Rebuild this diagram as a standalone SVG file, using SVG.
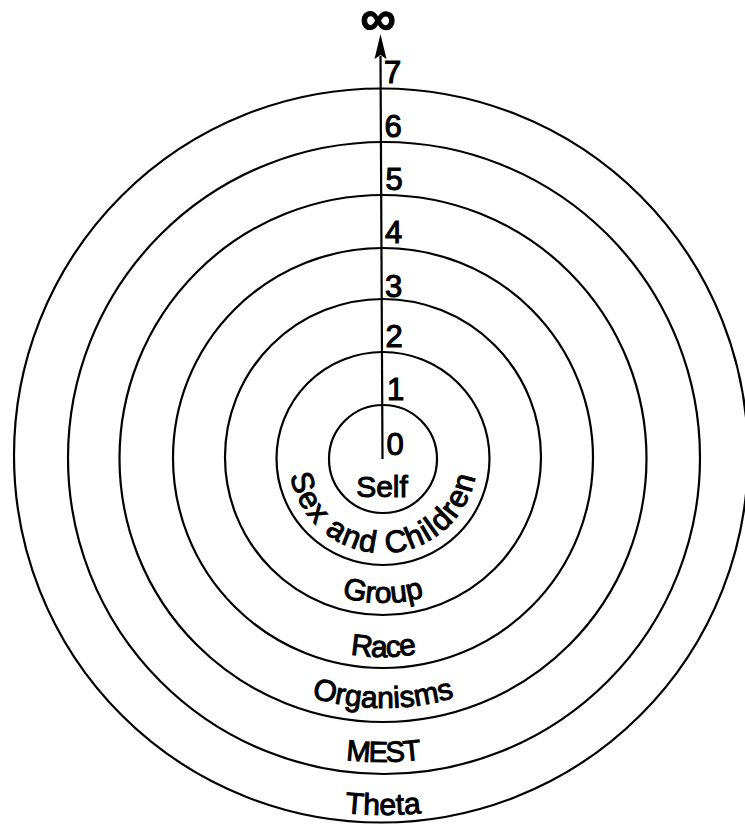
<svg xmlns="http://www.w3.org/2000/svg" width="745" height="825" viewBox="0 0 745 825">
<style>
.ring{fill:none;stroke:#000;stroke-width:2.2}
.lbl{font-family:"Liberation Sans",Arial,sans-serif;font-size:30px;fill:#000;stroke:#000;stroke-width:1}
.num{font-family:"Liberation Sans",Arial,sans-serif;font-size:31px;fill:#000;stroke:#000;stroke-width:1.1}
</style>
<defs>
<path id="p-sex" d="M 289 459 A 94 94 0 0 0 477 459"/>
<path id="p-group" d="M 238 458 A 145 145 0 0 0 528 458"/>
<path id="p-race" d="M 184 458 A 199 199 0 0 0 582 458"/>
<path id="p-org" d="M 133 458 A 250 250 0 0 0 633 458"/>
<path id="p-mest" d="M 79 458 A 304 304 0 0 0 687 458"/>
<path id="p-theta" d="M 26 458 A 357 357 0 0 0 740 458"/>
</defs>
<rect width="745" height="825" fill="#fff"/>
<g id="ring-6">
<circle class="ring" cx="381" cy="455.5" r="367"/>
<text class="lbl"><textPath href="#p-theta" startOffset="50%" text-anchor="middle">Theta</textPath></text>
<text class="num" x="384.5" y="137">6</text>
</g>
<g id="ring-5">
<circle class="ring" cx="384" cy="458" r="316"/>
<text class="lbl" style="font-size:29px;letter-spacing:-1.5px"><textPath href="#p-mest" startOffset="50%" text-anchor="middle">MEST</textPath></text>
<text class="num" x="385.5" y="190">5</text>
</g>
<g id="ring-4">
<circle class="ring" cx="383" cy="458.5" r="263.5"/>
<text class="lbl"><textPath href="#p-org" startOffset="50%" text-anchor="middle">Organisms</textPath></text>
<text class="num" x="385" y="243">4</text>
</g>
<g id="ring-3">
<circle class="ring" cx="383" cy="458" r="210"/>
<text class="lbl" style="letter-spacing:-1px"><textPath href="#p-race" startOffset="50%" text-anchor="middle">Race</textPath></text>
<text class="num" x="385" y="297">3</text>
</g>
<g id="ring-2">
<circle class="ring" cx="383" cy="457" r="158"/>
<text class="lbl"><textPath href="#p-group" startOffset="50%" text-anchor="middle">Group</textPath></text>
<text class="num" x="385.5" y="347">2</text>
</g>
<g id="ring-1">
<circle class="ring" cx="383" cy="458.5" r="106.5"/>
<text class="lbl" style="font-size:31px;letter-spacing:1.5px"><textPath href="#p-sex" startOffset="50%" text-anchor="middle">Sex and Children</textPath></text>
<text class="num" x="387" y="400">1</text>
</g>
<g id="ring-0">
<circle class="ring" cx="383" cy="459" r="54"/>
<text class="lbl" x="382" y="497" text-anchor="middle">Self</text>
<text class="num" x="386.5" y="455">0</text>
</g>
<g id="outside">
<text class="num" x="384" y="83">7</text>
<text class="num" x="378" y="35" text-anchor="middle" style="font-size:50px;font-weight:bold;stroke-width:1">∞</text>
</g>
<g id="connectors">
<line x1="380.5" y1="56" x2="382.5" y2="459" stroke="#000" stroke-width="2.2"/>
<polygon points="380.5,34 386.5,59 380.5,55 374.5,59" fill="#000"/>
</g>
</svg>
